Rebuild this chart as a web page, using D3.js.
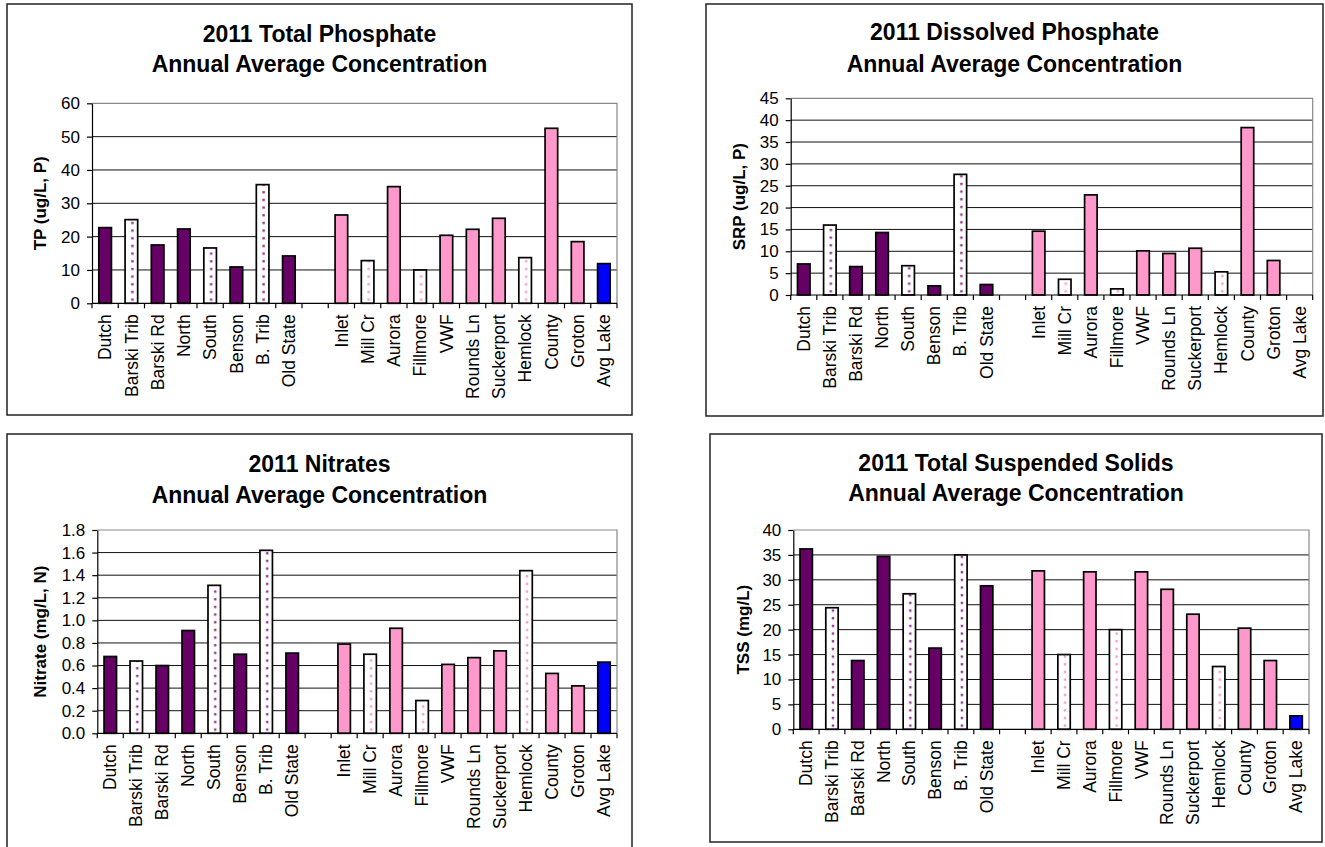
<!DOCTYPE html>
<html>
<head>
<meta charset="utf-8">
<script src="https://cdn.jsdelivr.net/npm/d3@7"></script>
<style>
  body { margin: 0; background: #fff; }
  svg { display: block; }
  text { font-family: "Liberation Sans", Arial, sans-serif; fill: #000; }
</style>
</head>
<body>
<svg id="chart" width="1325" height="847"></svg>
<script>
// Sampling sites; the empty entry is the gap between the two site groups.
const sites = ["Dutch", "Barski Trib", "Barski Rd", "North", "South", "Benson", "B. Trib", "Old State", "",
  "Inlet", "Mill Cr", "Aurora", "Fillmore", "VWF", "Rounds Ln", "Suckerport", "Hemlock", "County", "Groton", "Avg Lake"];

// Site kind decides the bar fill.
const siteKinds = ["stream", "streamTrib", "stream", "stream", "streamTrib", "stream", "streamTrib", "stream", null,
  "inlet", "inletTrib", "inlet", "inletTrib", "inlet", "inlet", "inlet", "inletTrib", "inlet", "inlet", "lake"];

// Annual average concentrations, 2011
const tpValues = [22.7, 25.1, 17.5, 22.3, 16.6, 10.9, 35.6, 14.2, null,
  26.5, 12.8, 35.0, 10.0, 20.4, 22.2, 25.5, 13.7, 52.5, 18.5, 11.9];
const srpValues = [7.1, 16.0, 6.5, 14.3, 6.7, 2.1, 27.6, 2.4, null,
  14.6, 3.6, 22.9, 1.4, 10.1, 9.5, 10.7, 5.3, 38.3, 7.9, null];
const nitrateValues = [0.68, 0.64, 0.60, 0.91, 1.31, 0.70, 1.62, 0.71, null,
  0.79, 0.70, 0.93, 0.29, 0.61, 0.67, 0.73, 1.44, 0.53, 0.42, 0.63];
const tssValues = [36.2, 24.4, 13.8, 34.7, 27.2, 16.3, 35.0, 28.8, null,
  31.8, 15.0, 31.6, 20.0, 31.6, 28.1, 23.1, 12.6, 20.3, 13.8, 2.7];

// Y-axis tick values
const tpTicks = [0, 10, 20, 30, 40, 50, 60];
const srpTicks = [0, 5, 10, 15, 20, 25, 30, 35, 40, 45];
const nitrateTicks = [0, 0.2, 0.4, 0.6, 0.8, 1.0, 1.2, 1.4, 1.6, 1.8];
const tssTicks = [0, 5, 10, 15, 20, 25, 30, 35, 40];

const panels = [
  { id: "tp", title: ["2011 Total Phosphate", "Annual Average Concentration"], yLabel: "TP (ug/L, P)",
    values: tpValues, ticks: tpTicks, fmt: d3.format("d") },
  { id: "srp", title: ["2011 Dissolved Phosphate", "Annual Average Concentration"], yLabel: "SRP (ug/L, P)",
    values: srpValues, ticks: srpTicks, fmt: d3.format("d") },
  { id: "no3", title: ["2011 Nitrates", "Annual Average Concentration"], yLabel: "Nitrate (mg/L, N)",
    values: nitrateValues, ticks: nitrateTicks, fmt: d3.format(".1f") },
  { id: "tss", title: ["2011 Total Suspended Solids", "Annual Average Concentration"], yLabel: "TSS (mg/L)",
    values: tssValues, ticks: tssTicks, fmt: d3.format("d") }
];

// Page layout for each panel: outer frame, plot area, title baselines, y-label x.
const layout = {
  tp:  { frame: [7, 4, 632, 415],    plot: [92, 103.3, 617, 303.3],   titleY: [41.7, 72],    yLabelX: 40 },
  srp: { frame: [706, 4, 1323, 416], plot: [790.7, 98.3, 1312.7, 295], titleY: [40, 72],      yLabelX: 739 },
  no3: { frame: [7, 434, 632, 850],  plot: [97.3, 530, 617, 733.3],   titleY: [471.7, 502.7], yLabelX: 40 },
  tss: { frame: [710, 434, 1322, 842], plot: [793.3, 530, 1309, 729.3], titleY: [470.7, 501], yLabelX: 743 }
};

const colors = { stream: "#660066", inlet: "#FF99CC", lake: "#0000FF",
  streamDot: "#993399", inletDot: "#FF99CC" };

const svg = d3.select("#chart");
const defs = svg.append("defs");

panels.forEach(p => {
  const L = layout[p.id];
  const [fx0, fy0, fx1, fy1] = L.frame;
  const [px0, py0, px1, py1] = L.plot;
  const g = svg.append("g").attr("class", "panel-" + p.id);

  // Outer frame
  g.append("rect")
    .attr("x", fx0).attr("y", fy0)
    .attr("width", fx1 - fx0).attr("height", fy1 - fy0)
    .attr("fill", "#fff").attr("stroke", "#222").attr("stroke-width", 1.5);

  // Title
  const cx = (fx0 + fx1) / 2;
  g.selectAll("text.title").data(p.title).join("text")
    .attr("class", "title")
    .attr("x", cx).attr("y", (d, i) => L.titleY[i])
    .attr("text-anchor", "middle")
    .attr("font-size", 23).attr("font-weight", "bold")
    .text(d => d);

  const x = d3.scaleBand().domain(d3.range(sites.length)).range([px0, px1]).paddingInner(0).paddingOuter(0);
  const y = d3.scaleLinear().domain([0, d3.max(p.ticks)]).range([py1, py0]);
  const step = x.step();
  const bw = step * 0.48;

  // Dotted fills for tributary sites
  [["streamTrib", colors.streamDot], ["inletTrib", colors.inletDot]].forEach(([kind, c]) => {
    const pat = defs.append("pattern")
      .attr("id", `${kind}-${p.id}`)
      .attr("patternUnits", "userSpaceOnUse")
      .attr("x", px0).attr("y", py1)
      .attr("width", step).attr("height", 7.67);
    pat.append("rect").attr("width", step).attr("height", 7.67).attr("fill", "#fff");
    pat.append("rect").attr("x", step / 2 - 0.2).attr("y", 2.8).attr("width", 2.4).attr("height", 2.4).attr("fill", c);
  });

  const fillFor = kind => {
    if (kind === "stream") return colors.stream;
    if (kind === "inlet") return colors.inlet;
    if (kind === "lake") return colors.lake;
    return `url(#${kind}-${p.id})`;
  };

  // Gridlines and plot-area border
  const maxTick = d3.max(p.ticks);
  g.selectAll("line.grid").data(p.ticks.filter(t => t > 0 && t < maxTick)).join("line")
    .attr("class", "grid")
    .attr("x1", px0).attr("x2", px1)
    .attr("y1", d => y(d)).attr("y2", d => y(d))
    .attr("stroke", "#111").attr("stroke-width", 1);
  g.append("path")
    .attr("d", `M${px0},${y(maxTick)}H${px1}V${y(0)}`)
    .attr("fill", "none").attr("stroke", "#888").attr("stroke-width", 1.2);

  // Bars
  const data = p.values.map((v, i) => ({ i, v, kind: siteKinds[i] })).filter(d => d.v != null && d.kind);
  g.selectAll("rect.bar").data(data).join("rect")
    .attr("class", "bar")
    .attr("x", d => x(d.i) + (step - bw) / 2)
    .attr("width", bw)
    .attr("y", d => y(d.v))
    .attr("height", d => y(0) - y(d.v))
    .attr("fill", d => fillFor(d.kind))
    .attr("stroke", "#000").attr("stroke-width", 1.7);

  // Y axis
  const yAxis = d3.axisLeft(y).tickValues(p.ticks).tickFormat(p.fmt)
    .tickSize(5).tickSizeOuter(0).tickPadding(7);
  const ya = g.append("g").attr("transform", `translate(${px0},0)`).call(yAxis);
  ya.attr("font-size", 17).attr("font-family", '"Liberation Sans", Arial, sans-serif');
  ya.select(".domain").attr("stroke", "#000").attr("stroke-width", 1.2);
  ya.selectAll(".tick line").attr("stroke", "#000").attr("stroke-width", 1.2);
  ya.selectAll(".tick text").attr("fill", "#000");

  // X axis line with ticks between categories
  g.append("line")
    .attr("x1", px0).attr("x2", px1).attr("y1", y(0)).attr("y2", y(0))
    .attr("stroke", "#000").attr("stroke-width", 1.2);
  g.selectAll("line.xtick").data(d3.range(sites.length + 1)).join("line")
    .attr("class", "xtick")
    .attr("x1", i => px0 + i * step).attr("x2", i => px0 + i * step)
    .attr("y1", y(0)).attr("y2", y(0) + 5)
    .attr("stroke", "#000").attr("stroke-width", 1.2);

  // Category labels, rotated
  g.selectAll("text.cat").data(sites.map((s, i) => ({ s, i })).filter(d => d.s)).join("text")
    .attr("class", "cat")
    .attr("transform", d => `translate(${x(d.i) + step / 2},${y(0) + 11}) rotate(-90)`)
    .attr("text-anchor", "end")
    .attr("dy", "0.35em")
    .attr("font-size", 17.5)
    .text(d => d.s);

  // Y-axis title
  g.append("text")
    .attr("transform", `translate(${L.yLabelX},${(py0 + py1) / 2}) rotate(-90)`)
    .attr("text-anchor", "middle")
    .attr("dy", "0.35em")
    .attr("font-size", 17).attr("font-weight", "bold")
    .text(p.yLabel);
});
</script>
</body>
</html>
